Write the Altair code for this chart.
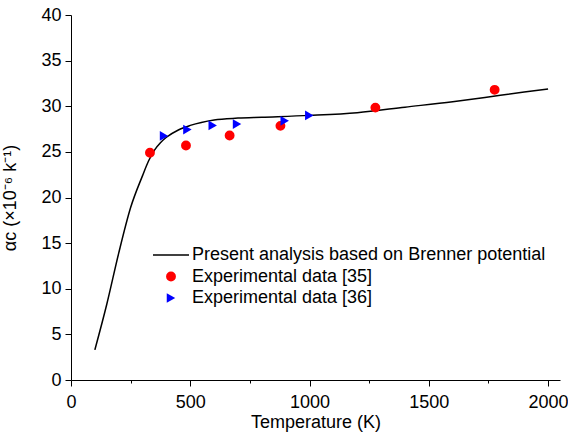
import altair as alt
import pandas as pd

# Model curve (Brenner potential)
line_T = [100, 150, 200, 250, 300, 325, 350, 375, 400, 450, 500, 600, 700, 800, 1000, 1200, 1400, 1600, 1800, 2000]
line_a = [3.3, 8.3, 13.9, 18.9, 22.4, 24.0, 25.2, 26.0, 26.6, 27.4, 27.9, 28.5, 28.7, 28.8, 29.0, 29.3, 29.9, 30.5, 31.2, 31.9]

# Experimental data [35]
exp35_T = [331, 482, 665, 878, 1276, 1776]
exp35_a = [24.9, 25.7, 26.8, 27.85, 29.85, 31.8]

# Experimental data [36]
exp36_T = [390, 488, 594, 696, 896, 999]
exp36_a = [26.75, 27.45, 27.9, 28.05, 28.4, 29.0]

S_LINE = "Present analysis based on Brenner potential"
S_35 = "Experimental data [35]"
S_36 = "Experimental data [36]"

x_ticks = [0, 250, 500, 750, 1000, 1250, 1500, 1750, 2000]
y_ticks = [0, 2.5, 5, 7.5, 10, 12.5, 15, 17.5, 20, 22.5, 25, 27.5, 30, 32.5, 35, 37.5, 40]

df_line = pd.DataFrame({"T": line_T, "a": line_a, "series": S_LINE})
df_pts = pd.concat([
    pd.DataFrame({"T": exp35_T, "a": exp35_a, "series": S_35}),
    pd.DataFrame({"T": exp36_T, "a": exp36_a, "series": S_36}),
])

FONT = "Liberation Sans"

x_axis = alt.Axis(
    values=x_ticks,
    format="d",
    labelExpr="datum.value % 500 === 0 ? datum.label : ''",
    tickSize={"condition": {"test": "datum.value % 500 === 0", "value": 6}, "value": 3},
    title="Temperature (K)",
    grid=False,
    labelFlush=False,
    labelPadding=7,
    titlePadding=2,
)
y_axis = alt.Axis(
    values=y_ticks,
    format="d",
    labelExpr="datum.value % 5 === 0 ? datum.label : ''",
    tickSize={"condition": {"test": "datum.value % 5 === 0", "value": 6}, "value": 3},
    title="αc (×10⁻⁶ k⁻¹)",
    grid=False,
    labelFlush=False,
    labelPadding=4,
    titlePadding=21,
)

x_enc = alt.X("T:Q", scale=alt.Scale(domain=[0, 2050], nice=False), axis=x_axis)
y_enc = alt.Y("a:Q", scale=alt.Scale(domain=[0, 40], nice=False), axis=y_axis)

line = alt.Chart(df_line).mark_line(color="black", strokeWidth=1.5, interpolate="monotone").encode(
    x=x_enc, y=y_enc
)

legend_dom = [S_LINE, S_35, S_36]
pts = alt.Chart(df_pts).mark_point(filled=True, opacity=1, strokeWidth=0).encode(
    x=alt.X("T:Q"),
    y=alt.Y("a:Q"),
    color=alt.Color("series:N", scale=alt.Scale(domain=legend_dom, range=["black", "#ff0000", "#0000ff"]),
                    legend=alt.Legend(title=None, orient="none", legendX=91, legendY=231,
                                      labelFont=FONT, labelFontSize=18, labelColor="black",
                                      labelOffset=12, rowPadding=3.5, padding=0,
                                      symbolStrokeWidth=0, symbolOpacity=1, labelLimit=500)),
    shape=alt.Shape("series:N", scale=alt.Scale(domain=legend_dom,
                    range=["M-3.6,-0.15H3.6V0.15H-3.6Z", "circle", "triangle-right"])),
    size=alt.Size("series:N", scale=alt.Scale(domain=legend_dom, range=[100, 95, 140])),
)

chart = alt.layer(line, pts).properties(
    width=489, height=365,
    autosize=alt.AutoSizeParams(type="none"),
    padding={"left": 71, "top": 15, "right": 8, "bottom": 58},
    background="white",
).configure_view(stroke=None).configure_axis(
    domainColor="black", tickColor="black", labelColor="black", titleColor="black",
    labelFont=FONT, titleFont=FONT, labelFontSize=18, titleFontSize=18,
    titleFontWeight="normal", domainWidth=1, tickWidth=1,
)

chart.save("out.html", embed_options={"renderer": "svg", "actions": False})
